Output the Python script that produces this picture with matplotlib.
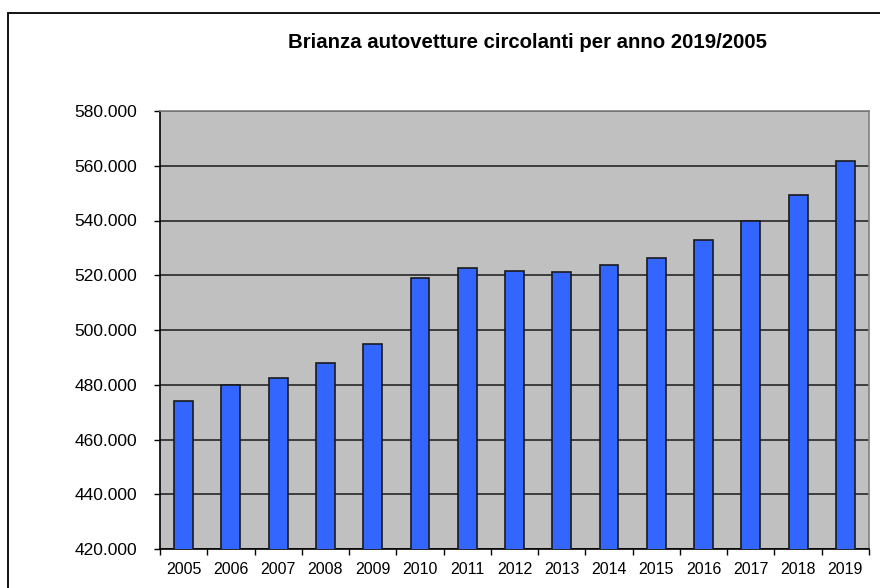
import matplotlib.pyplot as plt
from matplotlib.patches import Rectangle
from matplotlib.ticker import FuncFormatter, MultipleLocator

plt.rcParams["font.family"] = ["Liberation Sans", "DejaVu Sans"]

years = ["2005", "2006", "2007", "2008", "2009", "2010", "2011", "2012",
         "2013", "2014", "2015", "2016", "2017", "2018", "2019"]
cars = [474100, 480000, 482400, 488000, 494900, 519000, 522700, 521700,
        521100, 523700, 526300, 532800, 540000, 549300, 561700]

W, H = 880, 588
fig = plt.figure(figsize=(W / 100, H / 100), dpi=100)

# outer chart border (cut off at right and bottom like the screenshot)
fig.patches.append(Rectangle((8 / W, -0.1), 1.2, 1.1 - 13 / H, transform=fig.transFigure,
                             fill=False, edgecolor="black", linewidth=1.3))

left, right, top, bottom = 160, 869, 111, 549
ax = fig.add_axes([left / W, 1 - bottom / H, (right - left) / W, (bottom - top) / H])
ax.set_facecolor("#c0c0c0")

x = list(range(len(years)))
ax.bar(x, cars, width=0.4, color="#3366ff", edgecolor="#1a1a1a", linewidth=1.2, zorder=3)

ax.set_ylim(420000, 580000)
ax.set_xlim(-0.5, len(years) - 0.5)
ax.yaxis.set_major_locator(MultipleLocator(20000))
ax.yaxis.set_major_formatter(FuncFormatter(lambda v, p: f"{int(v):,}".replace(",", ".")))
ax.grid(axis="y", color="#1a1a1a", linewidth=1.1, zorder=1)

ax.set_xticks(x)
ax.set_xticklabels(years, fontsize=11.5)
ax.set_xticks([i + 0.5 for i in range(-1, len(years))], minor=True)
ax.tick_params(axis="x", which="major", length=0, pad=9)
ax.tick_params(axis="x", which="minor", length=4, width=1, direction="out")
ax.tick_params(axis="y", length=4, width=1, direction="out", labelsize=12.5, pad=12.6)

ax.spines["left"].set_color("black")
ax.spines["bottom"].set_color("black")
ax.spines["top"].set_color("#808080")
ax.spines["right"].set_color("#808080")
for s in ax.spines.values():
    s.set_linewidth(1.2)

fig.text(527 / W, 1 - 43 / H, "Brianza autovetture circolanti per anno 2019/2005",
         ha="center", va="center", fontsize=14.7, fontweight="bold")

fig.savefig("out.png", dpi=100)
